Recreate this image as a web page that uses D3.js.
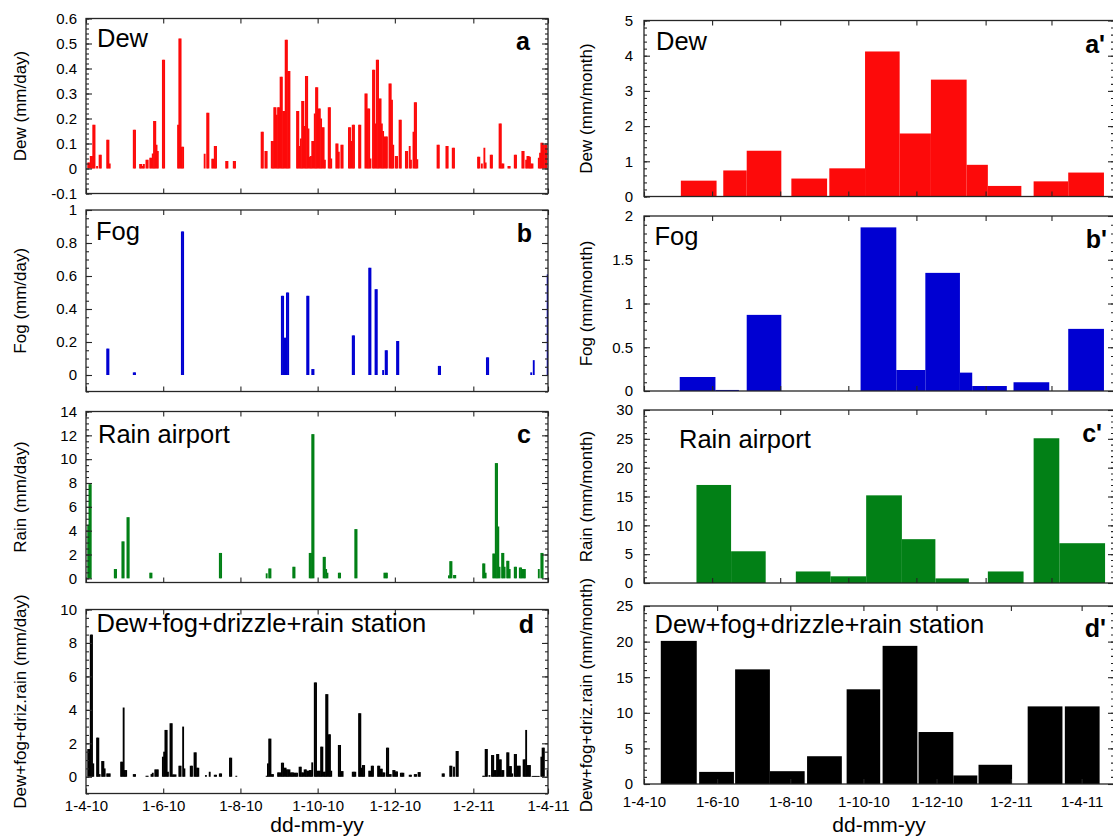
<!DOCTYPE html>
<html><head><meta charset="utf-8">
<script src="https://cdn.jsdelivr.net/npm/d3@7"></script>
<style>
body{margin:0;background:#fff;}
svg{display:block;font-family:"Liberation Sans",Arial,Helvetica,sans-serif;}
</style></head><body>
<svg id="chart" width="1113" height="838"></svg>
<script>
// ---------------- DATA ----------------
const startDate = "2010-04-01";
const tickDates = ["2010-04-01","2010-06-01","2010-08-01","2010-10-01","2010-12-01","2011-02-01","2011-04-01"];
const xAxisTitle = "dd-mm-yy";
const panelTitles = ["Dew","Fog","Rain airport","Dew+fog+drizzle+rain station"];
const dailyLetters = ["a","b","c","d"];
const monthlyLetters = ["a'","b'","c'","d'"];
const dailyYLabels = ["Dew (mm/day)","Fog (mm/day)","Rain (mm/day)","Dew+fog+driz.rain (mm/day)"];
const monthlyYLabels = ["Dew (mm/month)","Fog (mm/month)","Rain (mm/month)","Dew+fog+driz.rain (mm/month)"];

// y tick labels
const dewDailyTicks = [-0.1,0,0.1,0.2,0.3,0.4,0.5,0.6];
const fogDailyTicks = [0,0.2,0.4,0.6,0.8,1];
const rainDailyTicks = [0,2,4,6,8,10,12,14];
const totalDailyTicks = [0,2,4,6,8,10];
const dewMonthlyTicks = [0,1,2,3,4,5];
const fogMonthlyTicks = [0,0.5,1,1.5,2];
const rainMonthlyTicks = [0,5,10,15,20,25,30];
const totalMonthlyTicks = [0,5,10,15,20,25];

// daily series: [day since 1-4-10, mm/day]
const dewDaily = [[1,0.024],[2,0.024],[3,0.05],[4,0.05],[5,0.175],[6,0.175],[8,0.01],[10,0.055],[11,0.055],[16,0.115],[17,0.115],[18,0.02],
[37,0.155],[38,0.155],[42,0.018],[43,0.018],[44,0.01],[45,0.018],[47,0.035],[48,0.035],[50,0.043],[51,0.043],[52,0.06],[53,0.19],[54,0.19],[55,0.095],[56,0.07],
[60,0.435],[61,0.435],[72,0.175],[73,0.52],[74,0.52],[75,0.087],[76,0.087],
[93,0.059],[95,0.223],[96,0.223],[99,0.039],[100,0.039],[101,0.09],[102,0.09],[110,0.03],[111,0.03],[116,0.03],[117,0.03],
[138,0.147],[139,0.147],[141,0.07],[142,0.07],
[146,0.11],[147,0.11],[148,0.245],[149,0.245],[150,0.215],[151,0.245],[152,0.245],[153,0.367],[154,0.367],[155,0.23],[156,0.23],[157,0.515],[158,0.515],[159,0.39],[160,0.39],
[166,0.23],[167,0.23],[168,0.09],[169,0.12],[170,0.27],[171,0.27],[172,0.17],[173,0.37],[174,0.37],[175,0.16],[176,0.047],
[177,0.05],[178,0.11],[179,0.11],[180,0.22],[181,0.325],[182,0.325],[183,0.24],[184,0.24],[185,0.2],[186,0.165],[187,0.165],[188,0.035],[191,0.245],[192,0.245],[193,0.04],
[197,0.1],[198,0.1],[199,0.067],[201,0.095],[202,0.095],
[207,0.165],[208,0.165],[209,0.11],[210,0.175],[211,0.175],[215,0.175],[216,0.175],
[220,0.3],[221,0.3],[222,0.24],[223,0.24],[224,0.04],[226,0.395],[227,0.395],[228,0.18],[229,0.435],[230,0.435],[231,0.28],[232,0.28],[233,0.18],[234,0.15],[235,0.128],[236,0.128],[237,0.128],
[239,0.34],[240,0.34],[241,0.275],[242,0.095],[244,0.05],[245,0.05],[247,0.195],[248,0.195],
[252,0.07],[253,0.07],[255,0.09],[256,0.035],[258,0.147],[259,0.265],[260,0.265],[261,0.037],
[277,0.095],[278,0.095],[284,0.09],[285,0.09],[289,0.083],[290,0.083],
[309,0.047],[310,0.047],[312,0.02],[314,0.083],[315,0.024],[319,0.055],[320,0.055],
[326,0.18],[327,0.18],[328,0.02],[329,0.02],[333,0.01],[334,0.01],[338,0.055],[339,0.055],
[344,0.07],[345,0.07],[347,0.035],[348,0.05],[349,0.05],[350,0.047],[351,0.02],[352,0.02],
[357,0.043],[358,0.063],[359,0.103],[360,0.103],[361,0.095],[362,0.095],[363,0.095]];

const fogDaily = [[16,0.16],[17,0.16],[37,0.016],[38,0.016],[75,0.87],[76,0.87],[154,0.48],[155,0.48],[156,0.226],[157,0.226],[158,0.5],[159,0.5],
[174,0.48],[175,0.48],[178,0.036],[179,0.036],[210,0.24],[211,0.24],[223,0.65],[224,0.65],[228,0.52],[229,0.52],[234,0.03],[236,0.15],[237,0.15],
[245,0.206],[246,0.206],[278,0.055],[279,0.055],[316,0.107],[317,0.107],[351,0.016],[353,0.09],[364,0.61]];

const rainDaily = [[1,4.5],[2,7.9],[3,7.9],[22,0.78],[23,0.78],[28,3.1],[29,3.1],[32,5.13],[33,5.13],[50,0.47],[51,0.47],[105,2.13],[106,2.13],
[142,0.42],[144,0.83],[145,0.83],[163,0.97],[164,0.97],[176,2.13],[177,2.13],[178,12.1],[179,12.1],[187,1.8],[188,1.8],[189,0.78],[190,0.47],
[199,0.47],[200,0.47],[212,4.13],[213,4.13],[235,0.47],[236,0.47],[237,0.47],[286,0.25],[287,1.44],[288,1.44],[290,0.28],[291,0.28],
[313,1.25],[314,1.25],[315,0.47],[321,2.08],[322,2.08],[323,9.67],[324,9.67],[325,4.35],[326,0.97],[328,2.13],[329,2.13],[330,0.97],
[332,1.47],[333,1.47],[334,0.78],[338,0.97],[339,0.97],[342,0.91],[343,0.91],[344,0.78],[345,0.78],[346,0.78],[357,0.78],[359,2.13],[360,2.13]];

const totalDaily = [[1,1.66],[2,1.66],[3,8.5],[4,8.5],[5,0.8],[8,2.34],[9,2.34],[10,0.16],[12,0.94],[13,0.94],[14,0.5],[16,0.2],[17,0.2],[18,0.2],
[27,0.9],[28,0.9],[29,4.14],[30,0.4],[31,0.4],[37,0.16],[38,0.16],[47,0.06],[48,0.06],[51,0.16],[52,0.24],[54,0.44],[55,0.44],[56,0.44],
[60,1.2],[61,1.5],[62,2.8],[63,2.8],[64,0.3],[66,3.2],[67,3.2],[68,0.14],[69,0.14],[70,0.14],[73,0.66],[74,0.66],[76,3.0],[77,0.5],
[82,0.66],[83,0.66],[85,1.46],[86,1.46],[87,0.54],[88,0.54],[94,0.1],[97,0.3],[101,0.12],[102,0.12],[105,0.2],[106,0.2],[113,1.14],[114,1.14],[118,0.06],
[142,0.06],[143,0.8],[144,2.28],[145,2.28],[146,0.16],[147,0.16],[151,0.26],[152,0.26],[153,0.26],[154,0.84],[155,0.84],[156,0.54],[157,0.54],
[158,0.44],[159,0.44],[160,0.44],[161,0.26],[162,0.26],[163,0.26],[164,0.24],[165,0.24],[166,0.24],[168,0.6],[169,0.6],[170,0.26],[171,0.26],
[172,0.44],[173,0.44],[174,0.36],[175,0.36],[176,0.4],[177,0.4],[178,0.86],[180,5.64],[181,5.64],[182,0.36],[183,0.36],[184,0.36],[185,1.8],[186,1.8],
[187,0.3],[188,0.3],[189,4.94],[190,4.94],[191,2.54],[192,2.54],[193,0.36],
[199,1.9],[200,1.9],[201,0.34],[202,0.34],[210,0.3],[211,0.3],[212,0.3],[215,3.8],[216,3.8],[217,0.54],[218,0.7],[219,0.7],[223,0.36],[224,0.36],
[225,0.66],[226,0.66],[230,0.66],[231,0.66],[232,0.48],[233,0.48],[234,0.26],[235,0.26],[237,1.74],[238,1.74],[239,0.16],[240,0.16],[242,0.4],[243,0.4],
[244,0.32],[245,0.32],[248,0.24],[249,0.24],[250,0.24],[255,0.12],[256,0.12],[259,0.16],[260,0.16],[262,0.28],[263,0.28],
[281,0.2],[282,0.2],[287,0.66],[288,0.66],[290,0.6],[292,1.54],[293,1.54],
[313,0.06],[314,0.06],[315,1.66],[316,1.66],[318,0.1],[320,1.3],[321,1.3],[322,0.4],[323,0.4],[324,1.36],[325,1.36],[326,1.04],[327,1.04],[328,0.4],[329,0.4],
[332,1.46],[333,1.46],[334,0.64],[335,0.64],[336,0.2],[338,1.36],[339,1.36],[340,0.66],[341,0.66],[342,0.66],[345,1.04],[346,1.04],[347,2.8],
[348,0.7],[349,0.7],[350,0.7],[352,0.05],[353,0.05],[354,0.05],[355,0.05],[356,0.05],[357,0.05],[359,1.2],[360,1.74],[361,1.74],[364,0.4]];

// monthly (sampling-period) series
const dewBinStart = ["2010-05-04","2010-06-11","2010-07-02","2010-08-11","2010-09-14","2010-10-16","2010-11-16","2010-12-14","2011-01-15","2011-02-03","2011-03-16","2011-04-16"];
const dewBinEnd   = ["2010-06-05","2010-07-02","2010-08-02","2010-09-12","2010-10-16","2010-11-16","2010-12-14","2011-01-15","2011-02-03","2011-03-05","2011-04-16","2011-05-18"];
const dewMonthly  = [0.45,0.74,1.3,0.51,0.8,4.12,1.79,3.32,0.9,0.3,0.43,0.68];

const fogBinStart = ["2010-05-03","2010-06-04","2010-07-02","2010-10-12","2010-11-13","2010-12-09","2011-01-09","2011-01-20","2011-02-26","2011-04-16"];
const fogBinEnd   = ["2010-06-04","2010-06-25","2010-08-02","2010-11-13","2010-12-09","2011-01-09","2011-01-20","2011-02-20","2011-03-30","2011-05-18"];
const fogMonthly  = [0.16,0.012,0.87,1.87,0.24,1.35,0.21,0.057,0.10,0.71];

const rainBinStart = ["2010-05-18","2010-06-18","2010-08-15","2010-09-15","2010-10-17","2010-11-18","2010-12-18","2011-02-03","2011-03-16","2011-04-08"];
const rainBinEnd   = ["2010-06-18","2010-07-19","2010-09-15","2010-10-17","2010-11-18","2010-12-18","2011-01-17","2011-03-07","2011-04-08","2011-05-19"];
const rainMonthly  = [17.0,5.5,2.0,1.16,15.2,7.6,0.8,2.0,25.1,6.9];

const totalBinStart = ["2010-04-15","2010-05-17","2010-06-16","2010-07-15","2010-08-15","2010-09-17","2010-10-17","2010-11-16","2010-12-15","2011-01-05","2011-02-15","2011-03-18"];
const totalBinEnd   = ["2010-05-15","2010-06-15","2010-07-15","2010-08-13","2010-09-13","2010-10-15","2010-11-15","2010-12-15","2011-01-04","2011-02-02","2011-03-16","2011-04-16"];
const totalMonthly  = [20.1,1.7,16.1,1.8,3.9,13.3,19.4,7.3,1.2,2.7,10.9,10.9];

// ---------------- DRAWING ----------------
const svg = d3.select("#chart");
const defs = svg.append("defs");
const parse = d3.utcParse("%Y-%m-%d");
const fmtDate = d3.utcFormat("%-d-%-m-%y");
const t0 = parse(startDate);
const numFmt = v => String(+v.toFixed(2));
const FRAME = "#262626";

const daily = ds => ds.map(([d, v]) => ({s: d3.utcDay.offset(t0, d), e: d3.utcDay.offset(t0, d + 1), v}));
const binned = (st, en, vals) => vals.map((v, i) => ({s: parse(st[i]), e: parse(en[i]), v}));

const COLORS = ["#fd0a0a", "#0000d2", "#028016", "#000000"];

const dailySeries = [dewDaily, fogDaily, rainDaily, totalDaily];
const dailyTicks = [dewDailyTicks, fogDailyTicks, rainDailyTicks, totalDailyTicks];
const monthlySeries = [
  binned(dewBinStart, dewBinEnd, dewMonthly),
  binned(fogBinStart, fogBinEnd, fogMonthly),
  binned(rainBinStart, rainBinEnd, rainMonthly),
  binned(totalBinStart, totalBinEnd, totalMonthly)];
const monthlyTicks = [dewMonthlyTicks, fogMonthlyTicks, rainMonthlyTicks, totalMonthlyTicks];

// layout (positions only)
const leftLayout = [
  {yr:[18.5,193.5], yDom:[-0.1,0.6], minor:0.02, title:[97,47], letter:[530,50]},
  {yr:[210,391.5], yDom:[-0.1,1.0], minor:0.05, title:[96,240], letter:[532,242]},
  {yr:[411.5,582.5], yDom:[-0.35,14], minor:0.5, title:[98,443], letter:[531,443]},
  {yr:[609.5,793.5], yDom:[-1,10], minor:0.5, title:[96.5,631.5], letter:[534,633], labels:true, labPad:7}
];
const rightLayout = [
  {yr:[20.5,196.5], yDom:[0,5], minor:0.2, title:[656,50], letter:[1105,53], xEnd:"2011-05-27"},
  {yr:[216,391], yDom:[0,2], minor:0.1, title:[654.5,245], letter:[1107,247.5], xEnd:"2011-05-27"},
  {yr:[410,583], yDom:[0,30], minor:1, title:[679,448], letter:[1102,442], xEnd:"2011-05-27"},
  {yr:[606,784], yDom:[0,25], minor:1, title:[654.5,633], letter:[1106,636.5], xEnd:"2011-04-28", labels:true, labPad:12}
];

function styleAxis(sel) {
  sel.select(".domain").remove();
  sel.selectAll(".tick line").attr("stroke", FRAME).attr("stroke-width", 1.1);
  sel.selectAll(".tick text").attr("fill", "#000").attr("font-size", 15)
     .attr("font-family", '"Liberation Sans",Arial,sans-serif');
  return sel;
}

function drawPanel(p) {
  const x = d3.scaleUtc().domain([t0, parse(p.xEnd)]).range(p.xr);
  const y = d3.scaleLinear().domain(p.yDom).range([p.yr[1], p.yr[0]]);
  const g = svg.append("g");
  const cid = "clip-" + p.id;
  defs.append("clipPath").attr("id", cid).append("rect")
    .attr("x", p.xr[0]).attr("y", p.yr[0])
    .attr("width", p.xr[1] - p.xr[0]).attr("height", p.yr[1] - p.yr[0]);

  g.append("g").attr("clip-path", `url(#${cid})`)
    .selectAll("rect").data(p.bars).join("rect")
    .attr("x", d => x(d.s))
    .attr("width", d => Math.max(0, x(d.e) - x(d.s) + p.pad))
    .attr("y", d => y(Math.max(0, d.v)))
    .attr("height", d => Math.abs(y(d.v) - y(0)))
    .attr("fill", p.color);

  // minor y ticks
  const minorVals = d3.range(Math.ceil(p.yDom[0] / p.minor - 1e-6), Math.floor(p.yDom[1] / p.minor + 1e-6) + 1)
    .map(k => +(k * p.minor).toFixed(4));
  styleAxis(g.append("g").attr("transform", `translate(${p.xr[0]},0)`)
    .call(d3.axisLeft(y).tickValues(minorVals).tickSize(-3).tickFormat("")));
  styleAxis(g.append("g").attr("transform", `translate(${p.xr[1]},0)`)
    .call(d3.axisRight(y).tickValues(minorVals).tickSize(-3).tickFormat("")));
  // major y ticks
  styleAxis(g.append("g").attr("transform", `translate(${p.xr[0]},0)`)
    .call(d3.axisLeft(y).tickValues(p.yTicks).tickSize(-6).tickPadding(p.yPad).tickFormat(numFmt)));
  styleAxis(g.append("g").attr("transform", `translate(${p.xr[1]},0)`)
    .call(d3.axisRight(y).tickValues(p.yTicks).tickSize(-6).tickFormat("")));

  // x ticks
  const xt = tickDates.map(parse);
  const bottom = d3.axisBottom(x).tickValues(xt).tickSize(-5).tickPadding(p.labPad || 0)
    .tickFormat(p.labels ? fmtDate : "");
  styleAxis(g.append("g").attr("transform", `translate(0,${p.yr[1]})`).call(bottom));
  styleAxis(g.append("g").attr("transform", `translate(0,${p.yr[0]})`)
    .call(d3.axisTop(x).tickValues(xt).tickSize(-5).tickFormat("")));

  // frame
  g.append("rect").attr("x", p.xr[0]).attr("y", p.yr[0])
    .attr("width", p.xr[1] - p.xr[0]).attr("height", p.yr[1] - p.yr[0])
    .attr("fill", "none").attr("stroke", FRAME).attr("stroke-width", 1.3);

  // y-axis title
  const cy = (p.yr[0] + p.yr[1]) / 2;
  g.append("text").attr("transform", `translate(${p.yTitleX},${cy}) rotate(-90)`)
    .attr("text-anchor", "middle").attr("font-size", 17).attr("fill", "#000").text(p.yLabel);

  // panel title and letter
  g.append("text").attr("x", p.title[0]).attr("y", p.title[1]).attr("font-size", 25.5)
    .attr("fill", "#000").text(p.titleText);
  g.append("text").attr("x", p.letter[0]).attr("y", p.letter[1]).attr("font-size", 25)
    .attr("font-weight", "bold").attr("text-anchor", "end").attr("fill", "#000").text(p.letterText);

  if (p.labels) {
    g.append("text").attr("x", (p.xr[0] + Math.min(p.xr[1], p.xAxisCenterMax || 1e9)) / 2)
      .attr("y", 832).attr("text-anchor", "middle").attr("font-size", 21).attr("fill", "#000").text(xAxisTitle);
  }
}

leftLayout.forEach((L, i) => drawPanel(Object.assign({}, L, {
  id: "L" + i, xr: [86, 548], xEnd: tickDates[tickDates.length - 1],
  bars: daily(dailySeries[i]), color: COLORS[i], pad: 0.6,
  yTicks: dailyTicks[i], yPad: 9, yLabel: dailyYLabels[i], yTitleX: 26,
  titleText: panelTitles[i], letterText: dailyLetters[i]
})));

rightLayout.forEach((L, i) => drawPanel(Object.assign({}, L, {
  id: "R" + i, xr: [644, 1114],
  bars: monthlySeries[i], color: COLORS[i], pad: 0,
  yTicks: monthlyTicks[i], yPad: 11, yLabel: monthlyYLabels[i], yTitleX: 592,
  titleText: panelTitles[i], letterText: monthlyLetters[i]
})));
</script>
</body></html>
